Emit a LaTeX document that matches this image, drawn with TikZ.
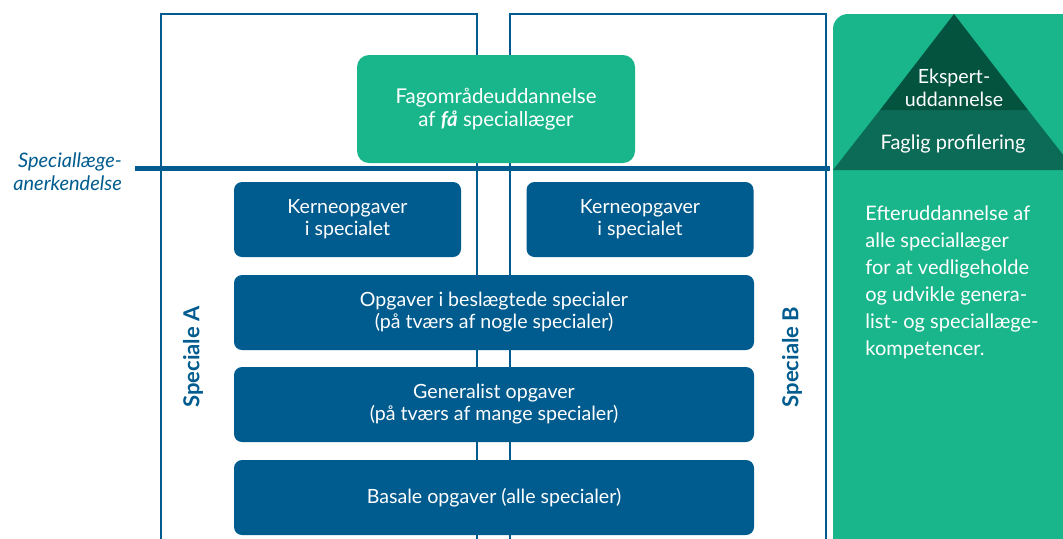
\documentclass[tikz,border=0pt]{standalone}
\usepackage{fontspec}
\setmainfont{Lato}
\usetikzlibrary{positioning}
\usepackage{xcolor}
\definecolor{dkblue}{HTML}{005B8E}
\definecolor{lgreen}{HTML}{1AB68B}
\definecolor{topgreen}{HTML}{03533F}
\definecolor{midgreen}{HTML}{0C6B56}
\tikzset{
  taskbox/.style={fill=dkblue, rounded corners=4pt, text=white, align=center,
    inner sep=0pt, minimum height=37.5pt, font=\fontsize{9.8}{11}\selectfont},
  spectext/.style={text=dkblue, rotate=90, font=\fontsize{11}{12}\selectfont\bfseries},
}

\begin{document}
\begin{tikzpicture}[x=0.5pt, y=-0.5pt]
\useasboundingbox (0,0) rectangle (1063,538);
% Speciale A og B
\draw[dkblue, line width=1.3pt] (161,545) -- (161,14) -- (477,14) -- (477,545);
\draw[dkblue, line width=1.3pt] (510,545) -- (510,14) -- (826,14) -- (826,545);
\node[spectext] (specA) at (193,357) {Speciale A};
\node[spectext] (specB) at (792,357) {Speciale B};
% speciallægeanerkendelse
\draw[dkblue, line width=2.5pt] (135,168) -- (830,168);
\node[anchor=east, align=right, text=dkblue, font=\fontsize{10}{11.5}\selectfont\itshape]
  (anerk) at (129,172) {Speciallæge-\\anerkendelse};
% opgaver
\node[fill=lgreen, rounded corners=6pt, text=white, align=center, inner sep=0pt,
  minimum width=139pt, minimum height=54pt, font=\fontsize{10.2}{11.5}\selectfont]
  (fagomr) at (496,109) {Fagområdeuddannelse\\af \textbf{\textit{få}} speciallæger};
\node[taskbox, minimum width=113.5pt] (kerneA) at (347.5,219.5) {Kerneopgaver\\i specialet};
\node[taskbox, minimum width=113.5pt] (kerneB) at (640,219.5) {Kerneopgaver\\i specialet};
\node[taskbox, minimum width=260pt] (beslaegt) at (494,312.5) {Opgaver i beslægtede specialer\\(på tværs af nogle specialer)};
\node[taskbox, minimum width=260pt] (general) at (494,404.5) {Generalist opgaver\\(på tværs af mange specialer)};
\node[taskbox, minimum width=260pt] (basal) at (494,497.5) {Basale opgaver (alle specialer)};
% efteruddannelse
\fill[lgreen, rounded corners=7.5pt] (833,14) rectangle (1100,580);
\fill[midgreen] (833,170) -- (880,110) -- (1028,110) -- (1075,170) -- cycle;
\fill[topgreen] (880,110) -- (954,14) -- (1028,110) -- cycle;
\node[text=white, align=center, font=\fontsize{9.8}{11.5}\selectfont] (ekspert) at (954,88) {Ekspert-\\uddannelse};
\node[text=white, font=\fontsize{10}{11}\selectfont] (faglig) at (953,144) {Faglig profilering};
\node[anchor=north west, align=left, text=white, inner sep=0pt,
  font=\fontsize{10}{13.5}\selectfont] (efter) at (865,205)
  {Efteruddannelse af\\alle speciallæger\\for at vedligeholde\\og udvikle genera-\\list- og speciallæge-\\kompetencer.};
\end{tikzpicture}
\end{document}
